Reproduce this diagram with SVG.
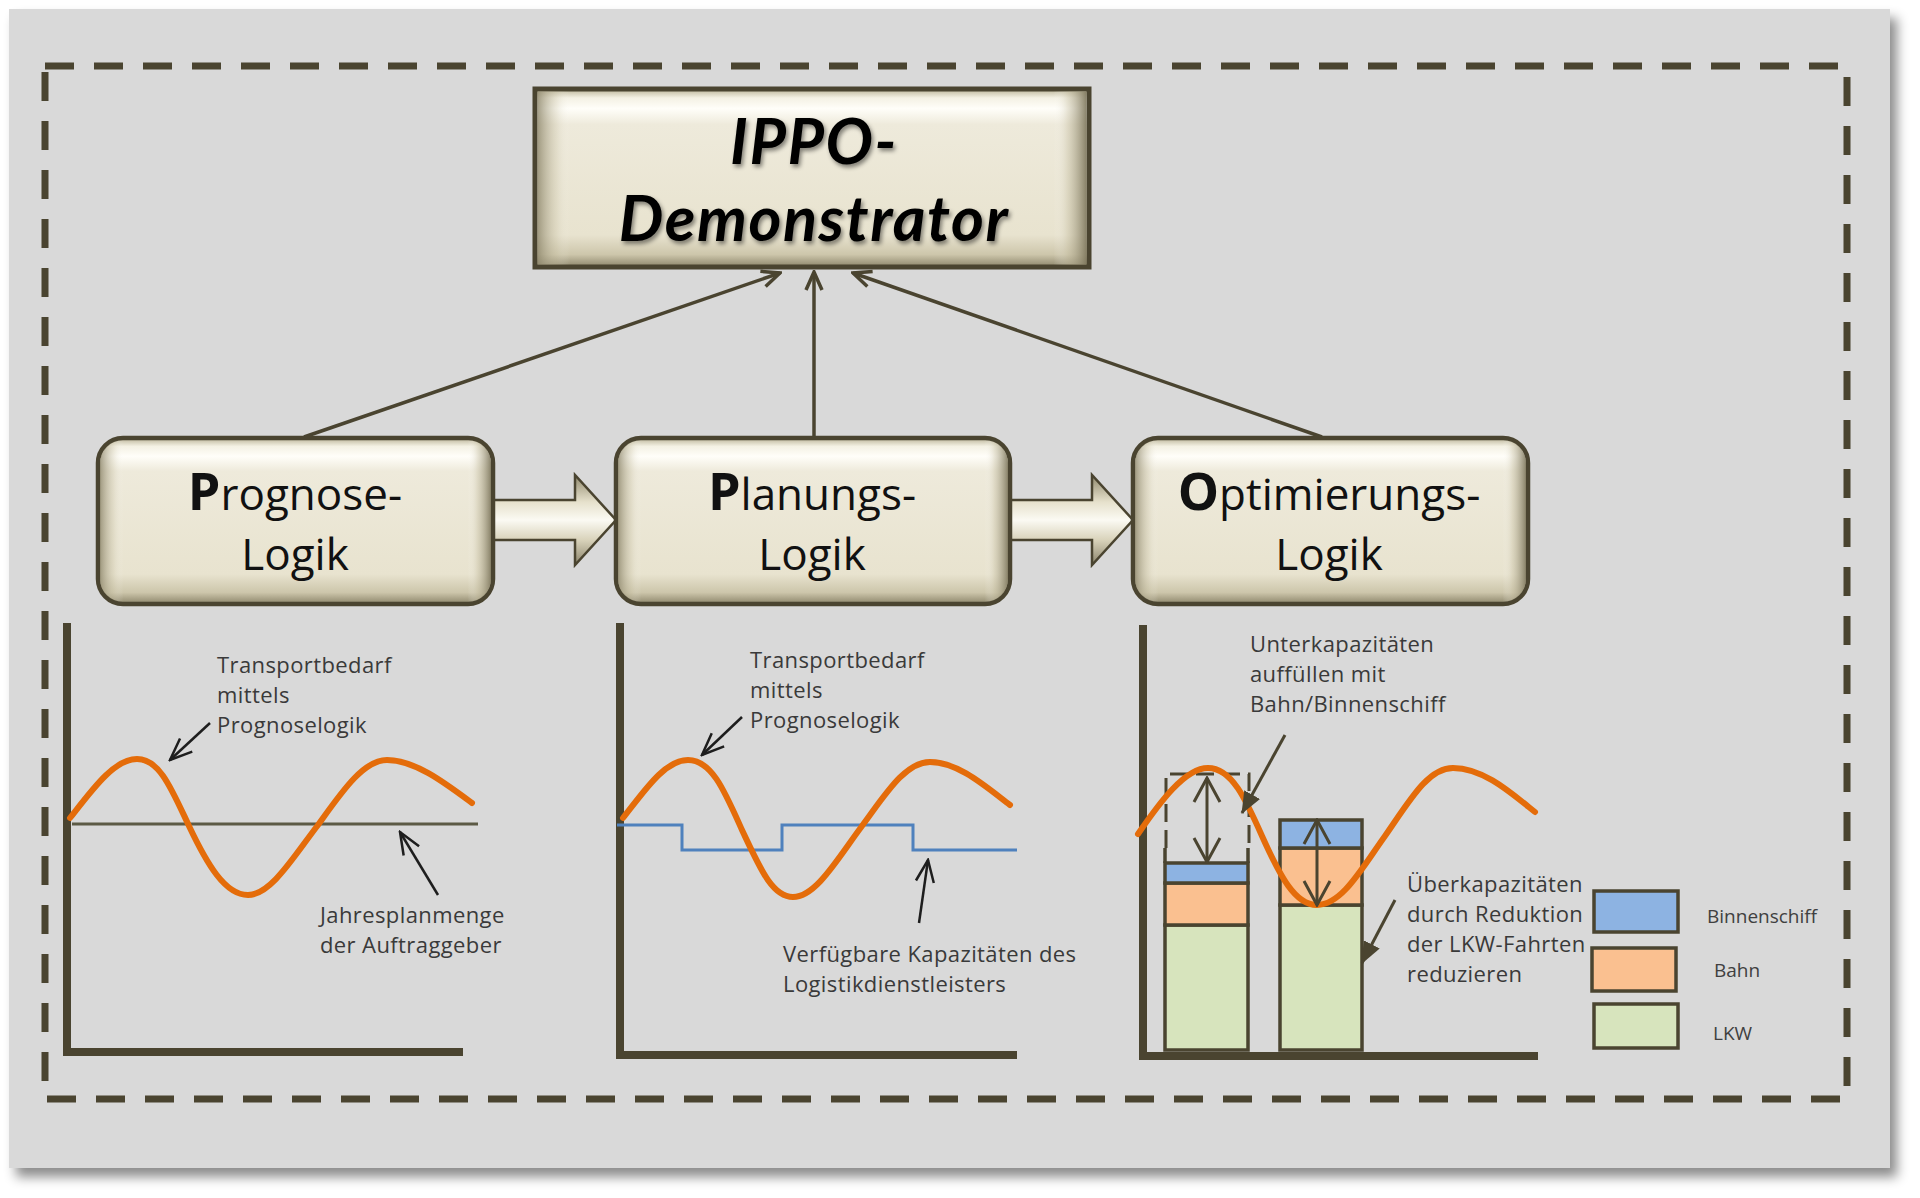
<svg xmlns="http://www.w3.org/2000/svg" width="1920" height="1198" viewBox="0 0 1920 1198">
<style>
.olive{stroke:#4a4430}
.lbl{font-family:"Open Sans","Liberation Sans",sans-serif;font-size:44px;fill:#111;text-anchor:middle}
.ann{font-family:"Open Sans","Liberation Sans",sans-serif;font-size:22px;letter-spacing:0.4px;fill:#3a3a3a}
.leg{font-family:"Open Sans","Liberation Sans",sans-serif;font-size:19px;fill:#404040}
.axis{stroke:#4a4430;stroke-width:8;fill:none;stroke-linecap:butt}
.wave{stroke:#e46c0a;stroke-width:6;fill:none;stroke-linecap:round}
.conn{stroke:#4a4430;stroke-width:3.5;fill:none}
.annarrow{stroke:#1e1e1e;stroke-width:2.5;fill:none}
.bar{stroke:#4a4430;stroke-width:3.5}
</style>
<defs>
<filter id="panelShadow" x="-5%" y="-5%" width="112%" height="115%">
<feDropShadow dx="7" dy="9" stdDeviation="6" flood-color="#000" flood-opacity="0.45"/>
</filter>
<filter id="txtShadow" x="-10%" y="-20%" width="120%" height="150%">
<feDropShadow dx="2" dy="3" stdDeviation="2" flood-color="#000" flood-opacity="0.45"/>
</filter>
<linearGradient id="bevV" x1="0" y1="0" x2="0" y2="1">
<stop offset="0" stop-color="#b9b296"/>
<stop offset="0.05" stop-color="#f4f1e4"/>
<stop offset="0.11" stop-color="#fffef9"/>
<stop offset="0.2" stop-color="#eeeadb"/>
<stop offset="0.82" stop-color="#e8e3cf"/>
<stop offset="0.93" stop-color="#cdc6ab"/>
<stop offset="1" stop-color="#8c856a"/>
</linearGradient>
<linearGradient id="bevH" x1="0" y1="0" x2="1" y2="0">
<stop offset="0" stop-color="#8c856a" stop-opacity="0.8"/>
<stop offset="0.035" stop-color="#c8c1a6" stop-opacity="0.3"/>
<stop offset="0.06" stop-color="#ffffff" stop-opacity="0"/>
<stop offset="0.94" stop-color="#ffffff" stop-opacity="0"/>
<stop offset="0.965" stop-color="#c8c1a6" stop-opacity="0.4"/>
<stop offset="1" stop-color="#7d765c" stop-opacity="0.9"/>
</linearGradient>
<linearGradient id="arrowG" x1="0" y1="0" x2="0" y2="1">
<stop offset="0" stop-color="#8f886c"/>
<stop offset="0.3" stop-color="#e6e1cc"/>
<stop offset="0.5" stop-color="#fbfaf3"/>
<stop offset="0.72" stop-color="#d9d3bb"/>
<stop offset="1" stop-color="#8a836a"/>
</linearGradient>
<marker id="openOlive" viewBox="0 0 22 20" refX="20" refY="10" markerWidth="22" markerHeight="20" markerUnits="userSpaceOnUse" orient="auto">
<path d="M2,2 L20,10 L2,18" fill="none" stroke="#4a4430" stroke-width="3.5"/>
</marker>
<marker id="openBlack" viewBox="0 0 26 22" refX="24" refY="11" markerWidth="26" markerHeight="22" markerUnits="userSpaceOnUse" orient="auto">
<path d="M2,2 L24,11 L2,20" fill="none" stroke="#1e1e1e" stroke-width="2.5"/>
</marker>
<marker id="openBar" viewBox="0 0 28 30" refX="26" refY="15" markerWidth="28" markerHeight="30" markerUnits="userSpaceOnUse" orient="auto-start-reverse">
<path d="M2,2 L26,15 L2,28" fill="none" stroke="#4a4430" stroke-width="3"/>
</marker>
<marker id="triOlive" viewBox="0 0 22 18" refX="21" refY="9" markerWidth="22" markerHeight="18" markerUnits="userSpaceOnUse" orient="auto">
<path d="M0,0 L22,9 L0,18 Z" fill="#4a4430"/>
</marker>
</defs>

<rect width="1920" height="1198" fill="#ffffff"/>
<rect id="panel" x="9" y="9" width="1881" height="1159" fill="#d9d9d9" filter="url(#panelShadow)"/>
<rect id="frame" x="45" y="66" width="1802" height="1033" fill="none" stroke="#4a4430" stroke-width="7" stroke-dasharray="29 20"/>

<g id="connectors">
<line class="conn" x1="304" y1="437" x2="780" y2="273" marker-end="url(#openOlive)"/>
<line class="conn" x1="814" y1="437" x2="814" y2="272" marker-end="url(#openOlive)"/>
<line class="conn" x1="1322" y1="437" x2="853" y2="273" marker-end="url(#openOlive)"/>
<path d="M480,500 H575 V475 L616,520 L575,565 V540 H480 Z" fill="url(#arrowG)" stroke="#4a4430" stroke-width="2.5" stroke-linejoin="miter"/>
<path d="M1000,500 H1092 V475 L1133,520 L1092,565 V540 H1000 Z" fill="url(#arrowG)" stroke="#4a4430" stroke-width="2.5" stroke-linejoin="miter"/>
</g>

<g id="ippo">
<rect x="535" y="89" width="554" height="178" fill="url(#bevV)" stroke="#4a4430" stroke-width="5"/>
<rect x="537.5" y="91.5" width="549" height="173" fill="url(#bevH)"/>
<g filter="url(#txtShadow)" font-family="Lato,'Liberation Sans',sans-serif" font-weight="bold" font-style="italic" font-size="63" letter-spacing="1.5" fill="#000" text-anchor="middle">
<text x="814" y="164">IPPO-</text>
<text x="814" y="241">Demonstrator</text>
</g>
</g>

<g id="prognose">
<rect x="98" y="438" width="395" height="166" rx="25" fill="url(#bevV)" stroke="#4a4430" stroke-width="4.5"/>
<rect x="100" y="440" width="391" height="162" rx="23" fill="url(#bevH)"/>
<text class="lbl" x="295" y="510"><tspan font-weight="bold" font-size="52">P</tspan>rognose-</text>
<text class="lbl" x="295" y="570">Logik</text>
</g>

<g id="planung">
<rect x="616" y="438" width="394" height="166" rx="25" fill="url(#bevV)" stroke="#4a4430" stroke-width="4.5"/>
<rect x="618" y="440" width="390" height="162" rx="23" fill="url(#bevH)"/>
<text class="lbl" x="812" y="510"><tspan font-weight="bold" font-size="52">P</tspan>lanungs-</text>
<text class="lbl" x="812" y="570">Logik</text>
</g>

<g id="optimierung">
<rect x="1133" y="438" width="395" height="166" rx="25" fill="url(#bevV)" stroke="#4a4430" stroke-width="4.5"/>
<rect x="1135" y="440" width="391" height="162" rx="23" fill="url(#bevH)"/>
<text class="lbl" x="1329" y="510"><tspan font-weight="bold" font-size="52">O</tspan>ptimierungs-</text>
<text class="lbl" x="1329" y="570">Logik</text>
</g>

<g id="chart1">
<path class="axis" d="M67,623 V1052 H463"/>
<line x1="72" y1="824" x2="478" y2="824" stroke="#5c5a45" stroke-width="3"/>
<path class="wave" d="M70,818 C92,790 114,759 137,759 C160,759 172,790 189,826 C207,864 225,895 248,895 C271,895 294,856 318,825 C341,793 363,760 387,760 C415,760 445,783 472,803"/>
<line class="annarrow" x1="210" y1="723" x2="170" y2="760" marker-end="url(#openBlack)"/>
<line class="annarrow" x1="438" y1="895" x2="400" y2="832" marker-end="url(#openBlack)"/>
<text class="ann" x="217" y="673">Transportbedarf</text>
<text class="ann" x="217" y="703">mittels</text>
<text class="ann" x="217" y="733">Prognoselogik</text>
<text class="ann" x="320" y="923">Jahresplanmenge</text>
<text class="ann" x="320" y="953">der Auftraggeber</text>
</g>

<g id="chart2">
<path class="axis" d="M620,623 V1055 H1017"/>
<path d="M617,825 H682 V850 H782 V825 H913 V850 H1017" fill="none" stroke="#4f81bd" stroke-width="3"/>
<path class="wave" d="M623,818 C645,790 665,760 688,760 C712,760 725,792 742,830 C760,868 772,897 793,897 C816,897 838,858 862,826 C885,795 905,762 930,762 C958,762 985,786 1010,805"/>
<line class="annarrow" x1="742" y1="717" x2="702" y2="755" marker-end="url(#openBlack)"/>
<line class="annarrow" x1="919" y1="923" x2="928" y2="860" marker-end="url(#openBlack)"/>
<text class="ann" x="750" y="668">Transportbedarf</text>
<text class="ann" x="750" y="698">mittels</text>
<text class="ann" x="750" y="728">Prognoselogik</text>
<text class="ann" x="783" y="962">Verfügbare Kapazitäten des</text>
<text class="ann" x="783" y="992">Logistikdienstleisters</text>
</g>

<g id="chart3">
<rect class="bar" x="1165" y="925" width="83" height="125" fill="#d7e4bd"/>
<rect class="bar" x="1165" y="883" width="83" height="42" fill="#fac090"/>
<rect class="bar" x="1165" y="863" width="83" height="20" fill="#8db3e2"/>
<path d="M1165,863 V848 M1248,863 V848" stroke="#4a4430" stroke-width="3.5" fill="none"/>
<path d="M1166,848 V774 H1249 V848" fill="none" stroke="#4a4430" stroke-width="3" stroke-dasharray="18 8"/>
<rect class="bar" x="1280" y="905" width="82" height="145" fill="#d7e4bd"/>
<rect class="bar" x="1280" y="848" width="82" height="57" fill="#fac090"/>
<rect class="bar" x="1280" y="820" width="82" height="28" fill="#8db3e2"/>
<path class="axis" d="M1143,625 V1056 H1538"/>
<path class="wave" d="M1138,834 C1160,802 1185,768 1208,768 C1232,768 1246,800 1262,836 C1280,876 1295,905 1317,905 C1342,905 1362,868 1385,836 C1410,800 1428,768 1453,768 C1483,768 1510,792 1535,812"/>
<line x1="1207" y1="778" x2="1207" y2="862" stroke="#4a4430" stroke-width="3" marker-start="url(#openBar)" marker-end="url(#openBar)"/>
<line x1="1317" y1="820" x2="1317" y2="905" stroke="#4a4430" stroke-width="3" marker-start="url(#openBar)" marker-end="url(#openBar)"/>
<line x1="1285" y1="735" x2="1242" y2="813" stroke="#4a4430" stroke-width="3" marker-end="url(#triOlive)"/>
<line x1="1395" y1="900" x2="1362" y2="963" stroke="#4a4430" stroke-width="3" marker-end="url(#triOlive)"/>
<text class="ann" x="1250" y="652">Unterkapazitäten</text>
<text class="ann" x="1250" y="682">auffüllen mit</text>
<text class="ann" x="1250" y="712">Bahn/Binnenschiff</text>
<text class="ann" x="1407" y="892">Überkapazitäten</text>
<text class="ann" x="1407" y="922">durch Reduktion</text>
<text class="ann" x="1407" y="952">der LKW-Fahrten</text>
<text class="ann" x="1407" y="982">reduzieren</text>
</g>

<g id="legend">
<rect class="bar" x="1594" y="891" width="84" height="41" fill="#8db3e2"/>
<rect class="bar" x="1592" y="948" width="84" height="43" fill="#fac090"/>
<rect class="bar" x="1594" y="1004" width="84" height="44" fill="#d7e4bd"/>
<text class="leg" x="1707" y="923">Binnenschiff</text>
<text class="leg" x="1714" y="977">Bahn</text>
<text class="leg" x="1713" y="1040">LKW</text>
</g>
</svg>
